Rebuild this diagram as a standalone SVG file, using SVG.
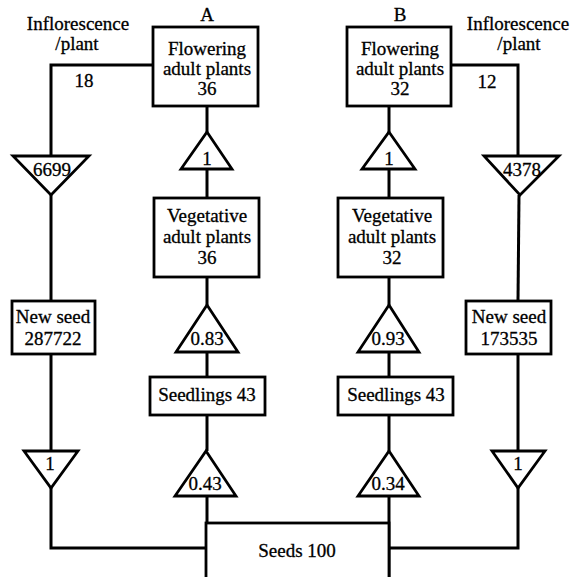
<svg xmlns="http://www.w3.org/2000/svg" width="571" height="577" viewBox="0 0 571 577">
<style>
.b{fill:#fff;stroke:#000;stroke-width:2.8}
.c{fill:none;stroke:#000;stroke-width:3}
text{font-family:"Liberation Serif","Times New Roman",serif;font-size:19px;fill:#000;stroke:#000;stroke-width:0.3;text-anchor:middle}
</style>
<rect width="571" height="577" fill="#fff"/>
<g id="connectors">
<polyline class="c" points="153,65 51,65 51,156"/>
<line class="c" x1="51" y1="195" x2="51" y2="301"/>
<line class="c" x1="51" y1="354" x2="51" y2="451"/>
<polyline class="c" points="51,488 51,548 206,548"/>
<line class="c" x1="207" y1="106" x2="207" y2="132"/>
<line class="c" x1="207" y1="169" x2="207" y2="198"/>
<line class="c" x1="207" y1="277" x2="207" y2="305"/>
<line class="c" x1="207" y1="352" x2="207" y2="377"/>
<line class="c" x1="207" y1="415" x2="207" y2="451"/>
<line class="c" x1="207" y1="496" x2="207" y2="577"/>
<polyline class="c" points="451,65 518,65 518,156"/>
<line class="c" x1="519" y1="195" x2="518" y2="301"/>
<line class="c" x1="518" y1="354" x2="518" y2="451"/>
<polyline class="c" points="518,488 518,548 389,548"/>
<line class="c" x1="389" y1="106" x2="389" y2="132"/>
<line class="c" x1="389" y1="169" x2="389" y2="198"/>
<line class="c" x1="389" y1="277" x2="389" y2="305"/>
<line class="c" x1="389" y1="352" x2="389" y2="377"/>
<line class="c" x1="389" y1="415" x2="389" y2="451"/>
<line class="c" x1="389" y1="496" x2="389" y2="577"/>
</g>
<g id="labels">
<text x="207" y="21">A</text>
<text x="400" y="21">B</text>
<text x="78" y="30">Inflorescence</text>
<text x="77" y="50">/plant</text>
<text x="518" y="30">Inflorescence</text>
<text x="519" y="50">/plant</text>
<text x="84" y="87">18</text>
<text x="487" y="88">12</text>
</g>
<g id="flowering-a">
<rect class="b" x="153" y="27" width="105" height="79"/>
<text x="207" y="55">Flowering</text>
<text x="207" y="75">adult plants</text>
<text x="207" y="95">36</text>
</g>
<g id="flowering-b">
<rect class="b" x="347" y="27" width="104" height="79"/>
<text x="400" y="55">Flowering</text>
<text x="400" y="75">adult plants</text>
<text x="400" y="95">32</text>
</g>
<g id="vegetative-a">
<rect class="b" x="154" y="198" width="105" height="79"/>
<text x="207" y="222">Vegetative</text>
<text x="207" y="243">adult plants</text>
<text x="207" y="264">36</text>
</g>
<g id="vegetative-b">
<rect class="b" x="338" y="198" width="105" height="79"/>
<text x="392" y="222">Vegetative</text>
<text x="392" y="243">adult plants</text>
<text x="392" y="264">32</text>
</g>
<g id="newseed-a">
<rect class="b" x="12" y="301" width="83" height="53"/>
<text x="53" y="323">New seed</text>
<text x="53" y="345">287722</text>
</g>
<g id="newseed-b">
<rect class="b" x="466" y="301" width="85" height="53"/>
<text x="509" y="323">New seed</text>
<text x="509" y="345">173535</text>
</g>
<g id="seedlings-a">
<rect class="b" x="150" y="377" width="115" height="38"/>
<text x="207" y="401">Seedlings 43</text>
</g>
<g id="seedlings-b">
<rect class="b" x="338" y="377" width="115" height="38"/>
<text x="396" y="401">Seedlings 43</text>
</g>
<g id="seeds">
<rect class="b" x="206" y="523" width="183" height="60"/>
<text x="297" y="557">Seeds 100</text>
</g>
<g id="tri-a-1">
<polygon class="b" points="207,132 232,169 181,169"/>
<text x="207" y="165">1</text>
</g>
<g id="tri-b-1">
<polygon class="b" points="389,132 415,169 362,169"/>
<text x="389" y="165">1</text>
</g>
<g id="tri-6699">
<polygon class="b" points="13,156 89,156 51,195"/>
<text x="52" y="176">6699</text>
</g>
<g id="tri-4378">
<polygon class="b" points="484,156 559,156 520,195"/>
<text x="522" y="176">4378</text>
</g>
<g id="tri-083">
<polygon class="b" points="207,305 238,352 176,352"/>
<text x="207" y="345">0.83</text>
</g>
<g id="tri-093">
<polygon class="b" points="389,305 419,352 358,352"/>
<text x="388" y="345">0.93</text>
</g>
<g id="tri-043">
<polygon class="b" points="206,451 236,496 175,496"/>
<text x="205" y="490">0.43</text>
</g>
<g id="tri-034">
<polygon class="b" points="389,451 419,496 358,496"/>
<text x="388" y="490">0.34</text>
</g>
<g id="tri-left-1">
<polygon class="b" points="24,451 78,451 51,488"/>
<text x="50" y="470">1</text>
</g>
<g id="tri-right-1">
<polygon class="b" points="492,451 545,451 518,488"/>
<text x="518" y="470">1</text>
</g>
</svg>
